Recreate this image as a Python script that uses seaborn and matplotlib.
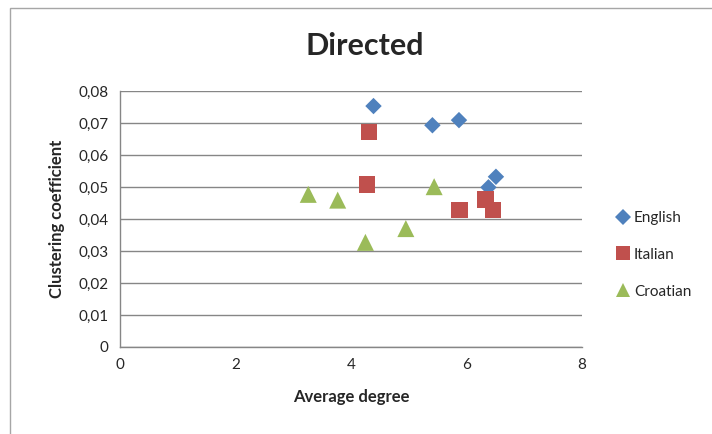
import matplotlib
matplotlib.use("Agg")
import matplotlib.pyplot as plt
from matplotlib.patches import Rectangle
from matplotlib.ticker import FuncFormatter
import seaborn as sns
import pandas as pd

# values
english_x = [4.39, 5.41, 5.87, 6.51, 6.38]
english_y = [0.0753, 0.0693, 0.0709, 0.0532, 0.0499]
italian_x = [4.31, 4.28, 5.88, 6.33, 6.46]
italian_y = [0.0671, 0.0508, 0.0428, 0.0461, 0.0428]
croatian_x = [3.26, 3.77, 4.25, 4.95, 5.44]
croatian_y = [0.0477, 0.0459, 0.0327, 0.0370, 0.0501]
languages = ["English", "Italian", "Croatian"]


def main():
    df = pd.DataFrame({
        "degree": english_x + italian_x + croatian_x,
        "clustering": english_y + italian_y + croatian_y,
        "language": ["English"] * len(english_x) + ["Italian"] * len(italian_x)
                    + ["Croatian"] * len(croatian_x),
    })

    sns.set_style("white")
    plt.rcParams["font.family"] = ["Lato", "DejaVu Sans"]

    fig = plt.figure(figsize=(7.12, 4.34), dpi=100)
    ax = fig.add_axes([0.1685, 0.2005, 0.8174 - 0.1685, 0.7903 - 0.2005])
    # outer chart frame (only top and left edges visible in the crop)
    fig.patches.append(Rectangle((10 / 712, -0.1), 1.2, 1.1 - 8 / 434,
                                 transform=fig.transFigure, fill=False,
                                 edgecolor="#a6a6a6", linewidth=1.0))

    palette = {"English": "#4F81BD", "Italian": "#C0504D", "Croatian": "#9BBB59"}
    markers = {"English": "D", "Italian": "s", "Croatian": "^"}
    sizes = {"English": 70, "Italian": 135, "Croatian": 150}
    sns.scatterplot(data=df, x="degree", y="clustering", hue="language",
                    style="language", size="language", hue_order=languages,
                    style_order=languages, size_order=languages, sizes=sizes,
                    palette=palette, markers=markers, linewidth=0,
                    ax=ax, zorder=3)

    ax.set_xlim(0, 8)
    ax.set_ylim(0, 0.08)
    ax.set_xticks([0, 2, 4, 6, 8])
    ax.set_yticks([i / 100 for i in range(9)])
    ax.yaxis.set_major_formatter(FuncFormatter(
        lambda v, p: "0" if v == 0 else f"{v:.2f}".replace(".", ",")))
    ax.grid(axis="y", color="#868686", linewidth=1.0)
    for side in ["top", "right"]:
        ax.spines[side].set_visible(False)
    for side in ["left", "bottom"]:
        ax.spines[side].set_color("#868686")
        ax.spines[side].set_linewidth(1.0)
    ax.tick_params(axis="both", labelsize=11, length=0, pad=8)

    ax.set_xlabel("Average degree", fontsize=12, fontweight="bold", labelpad=12)
    ax.set_ylabel("Clustering coefficient", fontsize=12, fontweight="bold", labelpad=10)
    fig.text(365 / 712, 1 - 46 / 434, "Directed", fontsize=22, fontweight="bold",
             ha="center", va="center")

    handles, labels = ax.get_legend_handles_labels()
    leg = ax.legend(handles, labels, loc="center left", bbox_to_anchor=(1.04, 0.36),
                    frameon=False, fontsize=11, labelspacing=1.5, handletextpad=0.1,
                    handlelength=1.2)
    for h in leg.legend_handles:
        h.set_markersize(8 if h.get_marker() == "D" else 9.5)

    fig.savefig("out.png", dpi=100)
    plt.close(fig)


if __name__ == "__main__":
    main()
